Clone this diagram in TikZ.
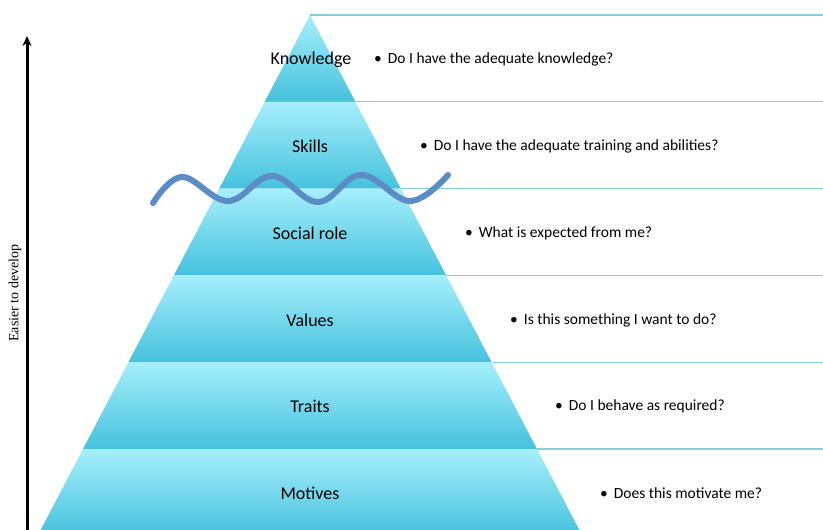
\documentclass[tikz,border=0pt]{standalone}
\usepackage{fontspec}
\setmainfont{Carlito}
\newfontfamily\timesf{Liberation Serif}
\usetikzlibrary{arrows.meta}
\definecolor{layertop}{HTML}{A6EFFC}
\definecolor{layerbot}{HTML}{45C1DD}
\definecolor{guide}{HTML}{84CEDC}
\definecolor{wave}{HTML}{5B8CC6}
\tikzset{
  layer/.style={top color=layertop, bottom color=layerbot, draw=none},
  guideline/.style={draw=guide, line width=1.3pt},
  lvl/.style={font=\fontsize{18}{20}\selectfont, text=black, inner sep=0pt},
  ques/.style={font=\fontsize{15.5}{17}\selectfont, text=black, anchor=west, inner sep=0pt},
}
\begin{document}
\begin{tikzpicture}[x=1pt,y=-1pt]
\useasboundingbox (0,0) rectangle (823,530);
\begin{scope}
\clip (0,0) rectangle (823,530);
% pyramid edge coordinates
\foreach \i in {0,...,6}{
  \coordinate (L\i) at ({310-45.4*\i},{15+86.8*\i});
  \coordinate (R\i) at ({310+45.4*\i},{15+86.8*\i});
}
% layers
\shade[layer] (L0) -- (L1) -- (R1) -- cycle;
\foreach \i [evaluate=\i as \j using int(\i+1)] in {1,...,5}{
  \shade[layer] (L\i) -- (L\j) -- (R\j) -- (R\i) -- cycle;
}
% guide lines
\foreach \i in {0,...,5}{
  \coordinate (E\i) at (823,{15+86.8*\i});
  \draw[guideline] (R\i) -- (E\i);
}
\end{scope}
% level labels
\node[lvl] (k) at (311,60) {Knowledge};
\node[lvl] (s) at (310,146) {Skills};
\node[lvl] (sr) at (310,233) {Social role};
\node[lvl] (v) at (310,320) {Values};
\node[lvl] (t) at (310,406) {Traits};
\node[lvl] (m) at (310,493) {Motives};
% questions
\node[ques] (qk) at (374,59) {\textbullet\hspace{6pt}Do I have the adequate knowledge?};
\node[ques] (qs) at (420,146) {\textbullet\hspace{6pt}Do I have the adequate training and abilities?};
\node[ques] (qsr) at (465,233) {\textbullet\hspace{6pt}What is expected from me?};
\node[ques] (qv) at (510,320) {\textbullet\hspace{6pt}Is this something I want to do?};
\node[ques] (qt) at (555,406) {\textbullet\hspace{6pt}Do I behave as required?};
\node[ques] (qm) at (600,493) {\textbullet\hspace{6pt}Does this motivate me?};
% wave
\draw[wave, line width=6pt, line cap=round] plot[smooth, tension=0.65] coordinates
  {(153,203) (182,177) (228,201) (272,176) (318,202) (361,175) (410,201) (448,175)};
% arrow
\coordinate (abot) at (27,530);
\coordinate (atop) at (27,36);
\draw[line width=3pt, -{Stealth[length=10pt,width=9pt]}] (abot) -- (atop);
\node[font=\timesf\fontsize{14}{16}\selectfont, rotate=90, inner sep=0pt] (lab) at (15,293) {Easier to develop};
\end{tikzpicture}
\end{document}
